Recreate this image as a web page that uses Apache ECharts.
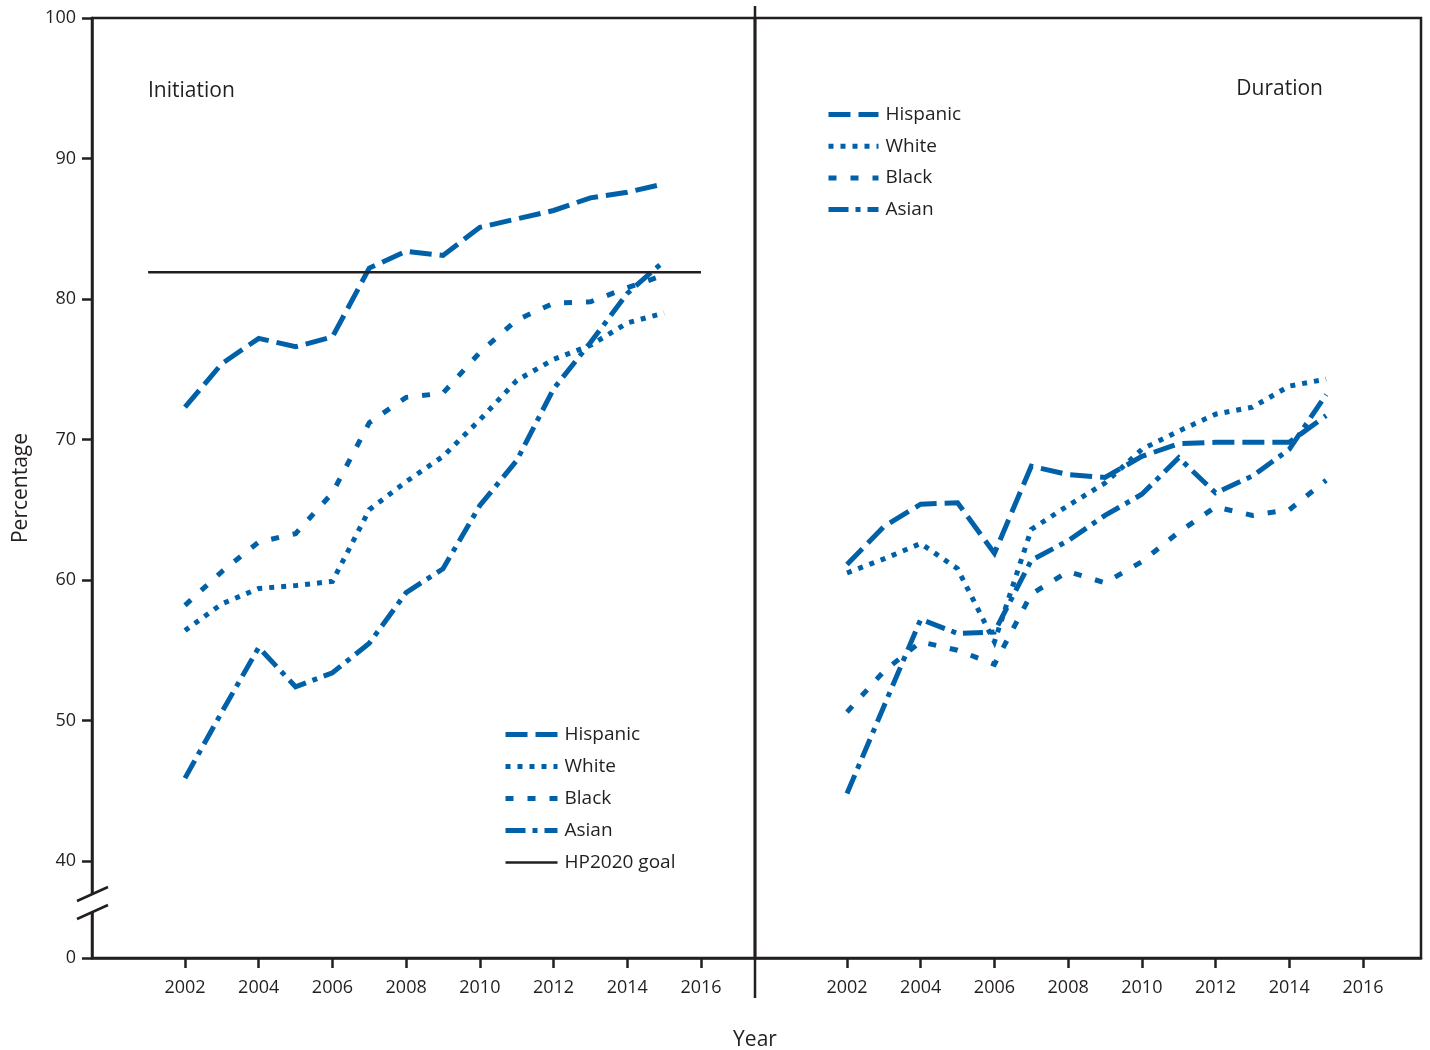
<!DOCTYPE html>
<html>
<head>
<meta charset="utf-8">
<script src="https://cdn.jsdelivr.net/npm/echarts@6/dist/echarts.min.js"></script>
<style>html,body{margin:0;padding:0;background:#fff}#c{width:1430px;height:1050px}</style>
</head>
<body>
<div id="c"></div>
<script>
// ---------- data ----------
const years = [2002,2003,2004,2005,2006,2007,2008,2009,2010,2011,2012,2013,2014,2015];
const xTickLabels = [2002,2004,2006,2008,2010,2012,2014,2016];
const yTickLabels = [40,50,60,70,80,90,100];
const seriesNames = ['Hispanic','White','Black','Asian'];

const hispanicInitiation = [72.3,75.4,77.2,76.6,77.3,82.2,83.4,83.1,85.1,85.7,86.3,87.2,87.6,88.2];
const whiteInitiation    = [56.4,58.3,59.4,59.6,59.9,65.0,67.0,68.8,71.4,74.2,75.7,76.7,78.3,79.0];
const blackInitiation    = [58.2,60.6,62.7,63.3,66.2,71.2,73.0,73.3,76.2,78.5,79.7,79.8,80.8,81.7];
const asianInitiation    = [45.9,50.6,55.2,52.4,53.4,55.5,59.1,60.8,65.3,68.5,73.6,76.9,80.4,82.7];

const hispanicDuration = [61.1,63.8,65.4,65.5,61.9,68.1,67.5,67.3,68.8,69.7,69.8,69.8,69.8,71.7];
const whiteDuration    = [60.5,61.5,62.6,60.8,55.6,63.6,65.3,66.9,69.3,70.6,71.8,72.3,73.8,74.3];
const blackDuration    = [50.6,53.5,55.6,55.0,54.0,59.0,60.6,59.8,61.3,63.4,65.2,64.6,65.0,67.1];
const asianDuration    = [44.8,51.0,57.2,56.2,56.3,61.4,62.8,64.6,66.1,68.7,66.2,67.4,69.3,73.2];

const hp2020GoalName = 'HP2020 goal';
const hp2020GoalValue = 81.9;
const hp2020GoalYears = [2001, 2016];

// ---------- styles ----------
const FONT = '"Open Sans", "Noto Sans", sans-serif';
const INK = '#231F20';
const BLUE = '#0060A8';
const DASH = { Hispanic: [22, 8], White: [5, 7], Black: [8, 14], Asian: [20, 7, 5, 7] };
const Y0 = 33.096; // value at the broken-axis "0" position
const yCustom = [Y0].concat(yTickLabels);

const pairs = (vals) => years.map((y, i) => [y, vals[i]]);

function raceSeries(name, vals, gi) {
  return {
    name: name, type: 'line', xAxisIndex: gi, yAxisIndex: gi,
    data: pairs(vals), symbol: 'none', showSymbol: false,
    itemStyle: { color: BLUE },
    lineStyle: { color: BLUE, width: 5, type: DASH[name], cap: 'butt', join: 'miter' },
    animation: false, silent: true
  };
}

const axisLineStyle = { color: INK, width: 2.5 };
function xAxisFor(gi, min, max) {
  return {
    gridIndex: gi, type: 'value', min: min, max: max,
    axisLine: { show: true, onZero: false, lineStyle: axisLineStyle },
    axisTick: { show: true, customValues: xTickLabels, length: 10, lineStyle: axisLineStyle },
    axisLabel: { customValues: xTickLabels, margin: 21, color: INK, fontSize: 18, fontFamily: FONT,
                 formatter: (v) => String(Math.round(v)) },
    splitLine: { show: false }
  };
}

const chart = echarts.init(document.getElementById('c'), null, { renderer: 'canvas' });
const legendText = { fontSize: 19, color: INK, fontFamily: FONT, padding: [0, 0, 0, 2] };
const legendCommon = {
  orient: 'vertical', padding: 0, itemHeight: 14, selectedMode: false, textStyle: legendText,
  itemStyle: { color: 'rgba(0,0,0,0)', borderWidth: 0, opacity: 0 },
  lineStyle: { width: 5 }
};
const leftLegendData = seriesNames.map((n) => ({ name: n }))
  .concat([{ name: hp2020GoalName, lineStyle: { width: 2.5 } }]);

chart.setOption({
  backgroundColor: '#fff',
  animation: false,
  title: [
    { text: 'Initiation', left: 148, top: 81, padding: 0, textStyle: { fontSize: 21, fontWeight: 'normal', color: INK, fontFamily: FONT } },
    { text: 'Duration', right: 107, top: 79, padding: 0, textStyle: { fontSize: 21, fontWeight: 'normal', color: INK, fontFamily: FONT } },
    { text: 'Year', left: 755, top: 1030, padding: 0, textAlign: 'center', textStyle: { fontSize: 21, fontWeight: 'normal', color: INK, fontFamily: FONT } }
  ],
  legend: [
    Object.assign({ data: leftLegendData, left: 503, top: 725, itemWidth: 52, itemGap: 13 }, legendCommon),
    Object.assign({ data: seriesNames, left: 826, top: 105, itemWidth: 50, itemGap: 12.7 }, legendCommon)
  ],
  grid: [
    { left: 92, top: 18, width: 663, height: 940, show: true, borderColor: INK, borderWidth: 2.5, backgroundColor: 'transparent' },
    { left: 755, top: 18, width: 666, height: 940, show: true, borderColor: INK, borderWidth: 2.5, backgroundColor: 'transparent' }
  ],
  xAxis: [ xAxisFor(0, 1999.477, 2017.465), xAxisFor(1, 1999.504, 2017.574) ],
  yAxis: [
    { gridIndex: 0, type: 'value', min: Y0, max: 100,
      axisLine: { show: true, onZero: false, lineStyle: axisLineStyle },
      axisTick: { show: true, customValues: yCustom, length: 10, lineStyle: axisLineStyle },
      axisLabel: { customValues: yCustom, margin: 16, color: INK, fontSize: 18, fontFamily: FONT,
                   formatter: (v) => (v < 35 ? '0' : String(Math.round(v))) },
      splitLine: { show: false },
      name: 'Percentage', nameLocation: 'middle', nameRotate: 90, nameGap: 60,
      nameTextStyle: { fontSize: 21, color: INK, fontFamily: FONT } },
    { gridIndex: 1, type: 'value', min: Y0, max: 100, show: false }
  ],
  series: [
    raceSeries('Hispanic', hispanicInitiation, 0),
    raceSeries('White', whiteInitiation, 0),
    raceSeries('Black', blackInitiation, 0),
    raceSeries('Asian', asianInitiation, 0),
    { name: hp2020GoalName, type: 'line', xAxisIndex: 0, yAxisIndex: 0,
      data: hp2020GoalYears.map((y) => [y, hp2020GoalValue]), symbol: 'none', showSymbol: false,
      itemStyle: { color: INK }, lineStyle: { color: INK, width: 2.5, type: 'solid' }, animation: false, silent: true },
    raceSeries('Hispanic', hispanicDuration, 1),
    raceSeries('White', whiteDuration, 1),
    raceSeries('Black', blackDuration, 1),
    raceSeries('Asian', asianDuration, 1)
  ],
  graphic: [
    { type: 'line', z: 100, shape: { x1: 755, y1: 6, x2: 755, y2: 998 }, style: { stroke: INK, lineWidth: 2.5 } },
    { type: 'polygon', z: 100, shape: { points: [[76, 901], [109, 887], [109, 905], [76, 919]] }, style: { fill: '#fff' } },
    { type: 'line', z: 101, shape: { x1: 77, y1: 901, x2: 108, y2: 887 }, style: { stroke: INK, lineWidth: 2.5 } },
    { type: 'line', z: 101, shape: { x1: 77, y1: 919, x2: 108, y2: 905 }, style: { stroke: INK, lineWidth: 2.5 } }
  ]
});
</script>
</body>
</html>
